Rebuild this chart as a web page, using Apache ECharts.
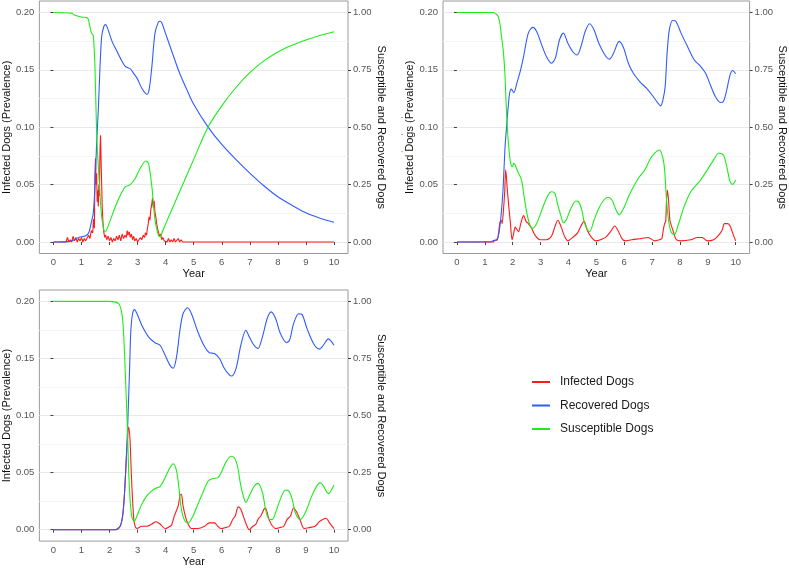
<!DOCTYPE html>
<html><head><meta charset="utf-8">
<script src="https://cdn.jsdelivr.net/npm/echarts@6/dist/echarts.min.js"></script>
<style>html,body{margin:0;padding:0;background:#fff}#c{width:789px;height:568px}</style>
</head><body><div id="c"></div><script>
// ---------- DATA ----------
const seriesNames = ['Infected Dogs', 'Recovered Dogs', 'Susceptible Dogs'];
const xTickValues = [0,1,2,3,4,5,6,7,8,9,10];
const leftTickValues = [0, 0.05, 0.10, 0.15, 0.20];
const leftMinorValues = [0.025, 0.075, 0.125, 0.175];
const rightTickValues = [0, 0.25, 0.50, 0.75, 1.00];

// Panel 1 (top-left)
const p1InfT = [0,0.45,0.5,0.55,0.6,0.65,0.7,0.75,0.8,0.85,0.9,0.95,1.0,1.05,1.1,1.15,1.2,1.25,1.3,1.35,1.4,1.43,1.46,1.48,1.5,1.52,1.54,1.56,1.58,1.6,1.62,1.64,1.66,1.68,1.7,1.72,1.74,1.77,1.8,1.83,1.86,1.9,1.95,2.0,2.05,2.1,2.15,2.2,2.25,2.3,2.35,2.4,2.45,2.5,2.55,2.6,2.63,2.66,2.7,2.74,2.78,2.82,2.86,2.9,2.95,3.0,3.05,3.1,3.15,3.2,3.25,3.28,3.32,3.35,3.38,3.41,3.44,3.47,3.5,3.53,3.56,3.59,3.62,3.65,3.68,3.71,3.74,3.78,3.82,3.86,3.9,3.95,4.0,4.05,4.1,4.15,4.2,4.25,4.3,4.35,4.4,4.45,4.5,4.55,4.6,10];
const p1InfV = [0,0,0.004,0,0.002,0,0.005,0.001,0.004,0,0.003,0.001,0.004,0,0.003,0.001,0.002,0.006,0.003,0.01,0.008,0.02,0.012,0.06,0.073,0.05,0.06,0.035,0.045,0.031,0.05,0.04,0.08,0.093,0.07,0.05,0.03,0.015,0.008,0.004,0.006,0.002,0.005,0.001,0.004,0,0.003,0.001,0.005,0.002,0.006,0.001,0.007,0.003,0.006,0.004,0.01,0.006,0.009,0.004,0.007,0.002,0.005,0.001,0.003,0,0.002,0.004,0.002,0.006,0.004,0.008,0.006,0.012,0.016,0.022,0.019,0.028,0.032,0.038,0.03,0.036,0.026,0.022,0.016,0.012,0.009,0.005,0.007,0.002,0.004,0.001,0.002,0,0.003,0,0.002,0,0.003,0,0.001,0.003,0,0.002,0,0];
const p1RecT = [0,0.6,0.9,1.13,1.25,1.36,1.42,1.48,1.54,1.6,1.66,1.72,1.8,1.86,1.92,2.09,2.27,2.39,2.56,2.74,2.86,2.98,3.15,3.33,3.41,3.51,3.62,3.74,3.8,3.86,4.0,4.25,4.5,4.75,5.0,5.5,6.0,6.5,7.0,7.5,8.0,8.5,9.0,9.5,10];
const p1RecV = [0,0.003,0.02,0.026,0.038,0.09,0.125,0.24,0.43,0.575,0.76,0.895,0.94,0.947,0.935,0.874,0.83,0.80,0.765,0.754,0.735,0.714,0.67,0.644,0.663,0.765,0.91,0.958,0.962,0.955,0.908,0.82,0.735,0.665,0.6,0.503,0.425,0.36,0.3,0.245,0.197,0.16,0.127,0.104,0.086];
const p1SusT = [0,0.65,0.72,1.01,1.22,1.3,1.36,1.42,1.48,1.54,1.6,1.66,1.72,1.8,1.85,1.98,2.21,2.39,2.56,2.74,2.92,3.09,3.29,3.39,3.51,3.62,3.74,3.8,3.9,4.0,4.5,5.0,5.5,6.0,6.5,7.0,7.5,8.0,8.5,9.0,9.5,10];
const p1SusV = [1.0,0.997,0.99,0.98,0.975,0.939,0.91,0.9,0.765,0.475,0.33,0.21,0.11,0.052,0.045,0.08,0.155,0.205,0.24,0.25,0.278,0.32,0.353,0.343,0.24,0.096,0.03,0.023,0.05,0.079,0.22,0.36,0.498,0.593,0.672,0.738,0.789,0.828,0.857,0.88,0.9,0.916];

// Panel 2 (top-right)
const p2InfT = [0,1.3,1.33,1.45,1.54,1.59,1.62,1.66,1.71,1.75,1.8,1.86,1.92,1.98,2.04,2.09,2.15,2.21,2.29,2.39,2.48,2.56,2.68,2.8,2.98,3.21,3.39,3.51,3.62,3.74,3.86,3.98,4.15,4.33,4.45,4.56,4.68,4.8,4.98,5.15,5.33,5.51,5.66,5.8,5.92,6.04,6.27,6.62,6.86,7.09,7.27,7.35,7.4,7.45,7.49,7.52,7.55,7.59,7.64,7.71,7.78,7.87,8.04,8.39,8.62,8.8,8.98,9.21,9.39,9.51,9.6,9.71,9.8,9.89,10];
const p2InfV = [0,0,0.001,0.002,0.017,0.019,0.016,0.025,0.042,0.063,0.048,0.031,0.016,0.002,0.008,0.013,0.011,0.009,0.016,0.023,0.018,0.016,0.012,0.006,0.002,0.002,0.005,0.013,0.019,0.013,0.005,0.001,0.004,0.008,0.014,0.018,0.01,0.005,0.001,0.002,0.004,0.009,0.014,0.009,0.003,0.001,0.002,0.003,0.004,0.001,0.002,0.003,0.01,0.016,0.018,0.037,0.045,0.037,0.019,0.013,0.008,0.002,0.001,0.002,0.004,0.004,0.001,0.002,0.006,0.01,0.016,0.016,0.014,0.008,0.001];
const p2RecT = [0,1.2,1.29,1.39,1.47,1.54,1.6,1.66,1.72,1.78,1.84,1.89,1.95,2.04,2.15,2.27,2.39,2.56,2.72,2.86,3.04,3.21,3.39,3.53,3.68,3.82,3.98,4.15,4.31,4.45,4.6,4.76,4.92,5.09,5.31,5.47,5.62,5.82,5.98,6.15,6.33,6.56,6.8,7.04,7.21,7.31,7.39,7.47,7.54,7.62,7.74,7.86,8.04,8.27,8.51,8.74,8.92,9.09,9.27,9.45,9.56,9.68,9.8,9.89,10];
const p2RecV = [0,0.001,0.006,0.009,0.019,0.067,0.14,0.241,0.401,0.503,0.59,0.648,0.666,0.651,0.692,0.743,0.808,0.91,0.935,0.917,0.859,0.808,0.779,0.801,0.881,0.91,0.866,0.83,0.815,0.852,0.917,0.951,0.924,0.866,0.815,0.797,0.823,0.874,0.845,0.779,0.735,0.699,0.67,0.634,0.605,0.593,0.619,0.677,0.823,0.924,0.965,0.961,0.91,0.852,0.794,0.765,0.735,0.685,0.634,0.608,0.612,0.663,0.728,0.747,0.733];
const p2SusT = [0,1.3,1.39,1.47,1.54,1.6,1.66,1.72,1.76,1.82,1.88,1.94,1.99,2.04,2.09,2.18,2.27,2.33,2.41,2.51,2.62,2.72,2.86,3.09,3.27,3.39,3.51,3.62,3.74,3.82,3.92,4.09,4.27,4.36,4.48,4.56,4.68,4.76,4.92,5.09,5.27,5.42,5.56,5.71,5.82,5.98,6.21,6.51,6.74,6.92,7.09,7.27,7.39,7.45,7.52,7.59,7.68,7.8,7.92,8.15,8.39,8.74,8.98,9.21,9.39,9.56,9.68,9.8,9.89,10];
const p2SusV = [1.0,1.0,0.994,0.985,0.953,0.895,0.837,0.735,0.62,0.474,0.387,0.336,0.328,0.343,0.336,0.307,0.285,0.263,0.198,0.125,0.074,0.06,0.081,0.154,0.205,0.219,0.212,0.161,0.11,0.084,0.096,0.147,0.179,0.176,0.14,0.089,0.055,0.045,0.096,0.147,0.183,0.195,0.183,0.14,0.118,0.147,0.212,0.278,0.314,0.358,0.387,0.401,0.365,0.314,0.183,0.096,0.045,0.031,0.067,0.154,0.219,0.27,0.314,0.358,0.387,0.379,0.328,0.263,0.251,0.27];

// Panel 3 (bottom-left)
const p3InfT = [0,2.25,2.33,2.42,2.48,2.54,2.59,2.64,2.68,2.73,2.78,2.84,2.89,2.98,3.15,3.33,3.51,3.65,3.8,3.98,4.09,4.21,4.31,4.39,4.45,4.51,4.56,4.62,4.71,4.8,4.92,5.15,5.39,5.56,5.74,5.86,5.98,6.15,6.27,6.39,6.48,6.59,6.68,6.78,6.92,6.98,7.11,7.22,7.29,7.39,7.51,7.56,7.66,7.76,7.92,8.09,8.21,8.33,8.45,8.56,8.68,8.8,8.94,9.15,9.33,9.48,9.6,9.72,9.84,10];
const p3InfV = [0,0,0.001,0.006,0.015,0.035,0.058,0.079,0.09,0.079,0.047,0.018,0.005,0.001,0.003,0.003,0.005,0.007,0.005,0.001,0.002,0.004,0.012,0.017,0.021,0.03,0.031,0.021,0.011,0.005,0.001,0.001,0.003,0.006,0.006,0.003,0.001,0.002,0.003,0.009,0.012,0.02,0.018,0.011,0.002,0,0.003,0.005,0.009,0.012,0.018,0.019,0.011,0.005,0.001,0.002,0.003,0.009,0.012,0.019,0.015,0.008,0.001,0.002,0.003,0.007,0.009,0.01,0.006,0.001];
const p3RecT = [0,2.2,2.27,2.39,2.47,2.53,2.59,2.65,2.71,2.76,2.82,2.89,2.98,3.15,3.39,3.62,3.8,3.98,4.15,4.27,4.39,4.51,4.62,4.78,4.92,5.15,5.39,5.56,5.74,5.92,6.09,6.27,6.35,6.51,6.68,6.86,6.98,7.15,7.29,7.45,7.62,7.76,7.92,8.09,8.31,8.42,8.56,8.74,8.86,9.04,9.27,9.48,9.62,9.8,10];
const p3RecV = [0,0,0.003,0.017,0.061,0.148,0.293,0.467,0.685,0.874,0.946,0.964,0.946,0.896,0.845,0.819,0.808,0.765,0.721,0.707,0.758,0.874,0.946,0.972,0.946,0.866,0.801,0.775,0.772,0.75,0.707,0.678,0.673,0.707,0.808,0.874,0.845,0.808,0.794,0.845,0.925,0.954,0.925,0.859,0.819,0.831,0.903,0.946,0.943,0.881,0.816,0.791,0.808,0.836,0.808];
const p3SusT = [0,1.98,2.21,2.33,2.42,2.48,2.54,2.59,2.64,2.68,2.74,2.8,2.88,2.98,3.15,3.33,3.51,3.62,3.8,3.98,4.15,4.27,4.39,4.48,4.56,4.68,4.8,4.98,5.15,5.33,5.51,5.68,5.86,5.98,6.15,6.33,6.45,6.56,6.68,6.8,6.86,6.98,7.15,7.29,7.45,7.56,7.68,7.8,7.92,8.09,8.27,8.39,8.51,8.62,8.8,8.98,9.21,9.39,9.51,9.62,9.8,10];
const p3SusV = [1.0,1.0,0.997,0.99,0.961,0.903,0.758,0.598,0.438,0.264,0.119,0.054,0.035,0.061,0.112,0.148,0.17,0.18,0.189,0.228,0.271,0.289,0.257,0.177,0.09,0.039,0.029,0.061,0.112,0.163,0.212,0.224,0.228,0.25,0.296,0.322,0.315,0.279,0.192,0.134,0.119,0.148,0.189,0.203,0.163,0.09,0.046,0.044,0.075,0.134,0.174,0.17,0.134,0.075,0.044,0.075,0.148,0.192,0.206,0.192,0.158,0.196];

// ---------- CHART ----------
const FONT = '"Liberation Sans", Arial, Helvetica, sans-serif';
const COLORS = {inf: '#ff1a1a', rec: '#2f5cff', sus: '#19ee19'};
const zip = (t, v) => t.map((x, i) => [x, v[i]]);

const panels = [
  {grid: {left: 36, top: 1, width: 312, height: 252.5},
   inf: zip(p1InfT, p1InfV), infSmooth: false, rec: zip(p1RecT, p1RecV), sus: zip(p1SusT, p1SusV)},
  {grid: {left: 443, top: 1, width: 312, height: 252.5},
   inf: zip(p2InfT, p2InfV), infSmooth: 0.3, rec: zip(p2RecT, p2RecV), sus: zip(p2SusT, p2SusV)},
  {grid: {left: 36, top: 290, width: 312, height: 253},
   inf: zip(p3InfT, p3InfV), infSmooth: 0.3, rec: zip(p3RecT, p3RecV), sus: zip(p3SusT, p3SusV)}
];

const labelStyle = {fontSize: 9.5, color: '#555', fontFamily: FONT};
const titleStyle = {fontSize: 11, color: '#111', fontFamily: FONT};
const tickStyle = {length: 3, lineStyle: {color: '#444', width: 1}};

const grids = [], xAxes = [], yAxes = [], series = [];
panels.forEach((p, i) => {
  grids.push(Object.assign({show: true, borderColor: '#9a9a9a', borderWidth: 1, backgroundColor: 'transparent'}, p.grid));
  xAxes.push({
    gridIndex: i, type: 'value', min: -0.5, max: 10.5,
    name: 'Year', nameLocation: 'middle', nameGap: 13, nameTextStyle: titleStyle,
    axisLine: {show: false},
    axisTick: Object.assign({show: true, customValues: xTickValues}, tickStyle),
    axisLabel: Object.assign({customValues: xTickValues, margin: 4}, labelStyle),
    splitLine: {show: false}
  });
  yAxes.push({
    gridIndex: i, type: 'value', position: 'left', min: -0.01, max: 0.21,
    name: 'Infected Dogs (Prevalence)', nameLocation: 'middle', nameGap: 24, nameTextStyle: titleStyle,
    axisLine: {show: false},
    axisTick: Object.assign({show: true, customValues: leftTickValues}, tickStyle),
    axisLabel: Object.assign({customValues: leftTickValues, margin: 5, formatter: v => v.toFixed(2)}, labelStyle),
    splitLine: {show: true, lineStyle: {color: '#e9e9e9', width: 1}}
  });
  yAxes.push({
    gridIndex: i, type: 'value', position: 'right', min: -0.05, max: 1.05,
    name: 'Susceptible and Recovered Dogs', nameLocation: 'middle', nameRotate: -90, nameGap: 24, nameTextStyle: titleStyle,
    axisLine: {show: false},
    axisTick: Object.assign({show: true, customValues: rightTickValues}, tickStyle),
    axisLabel: Object.assign({customValues: rightTickValues, margin: 5, formatter: v => v.toFixed(2)}, labelStyle),
    splitLine: {show: false}
  });
  yAxes.push({
    gridIndex: i, type: 'value', position: 'left', min: -0.01, max: 0.21,
    axisLine: {show: false},
    axisTick: {show: false, customValues: leftMinorValues},
    axisLabel: {show: false, customValues: leftMinorValues},
    splitLine: {show: true, lineStyle: {color: '#f4f4f4', width: 1}}
  });
  const base = {type: 'line', xAxisIndex: i, symbol: 'none', showSymbol: false, animation: false};
  series.push(Object.assign({}, base, {name: seriesNames[0], yAxisIndex: 3 * i, data: p.inf, smooth: p.infSmooth,
    color: COLORS.inf, lineStyle: {color: COLORS.inf, width: 1.1}, z: 2}));
  series.push(Object.assign({}, base, {name: seriesNames[1], yAxisIndex: 3 * i + 1, data: p.rec, smooth: 0.3,
    color: COLORS.rec, lineStyle: {color: COLORS.rec, width: 1.1}, z: 3}));
  series.push(Object.assign({}, base, {name: seriesNames[2], yAxisIndex: 3 * i + 1, data: p.sus, smooth: 0.3,
    color: COLORS.sus, lineStyle: {color: COLORS.sus, width: 1.1}, z: 4}));
});

const chart = echarts.init(document.getElementById('c'), null, {renderer: 'canvas'});
chart.setOption({
  backgroundColor: '#ffffff',
  animation: false,
  grid: grids, xAxis: xAxes, yAxis: yAxes, series: series,
  legend: {
    data: seriesNames, orient: 'vertical', left: 527, top: 370,
    icon: 'rect', itemWidth: 18, itemHeight: 2, itemGap: 9.5,
    textStyle: {fontSize: 12, color: '#1a1a1a', fontFamily: FONT, lineHeight: 14, padding: [0, 0, 0, 5]},
    selectedMode: false
  },
  graphic: [
    {type: 'rect', shape: {x: 401, y: 117, width: 2, height: 1}, style: {fill: '#ff8a8a'}, silent: true},
    {type: 'rect', shape: {x: 401, y: 134, width: 2, height: 1}, style: {fill: '#8aa0ff'}, silent: true},
    {type: 'rect', shape: {x: 401, y: 151, width: 2, height: 1}, style: {fill: '#8af08a'}, silent: true}
  ]
});
</script></body></html>
